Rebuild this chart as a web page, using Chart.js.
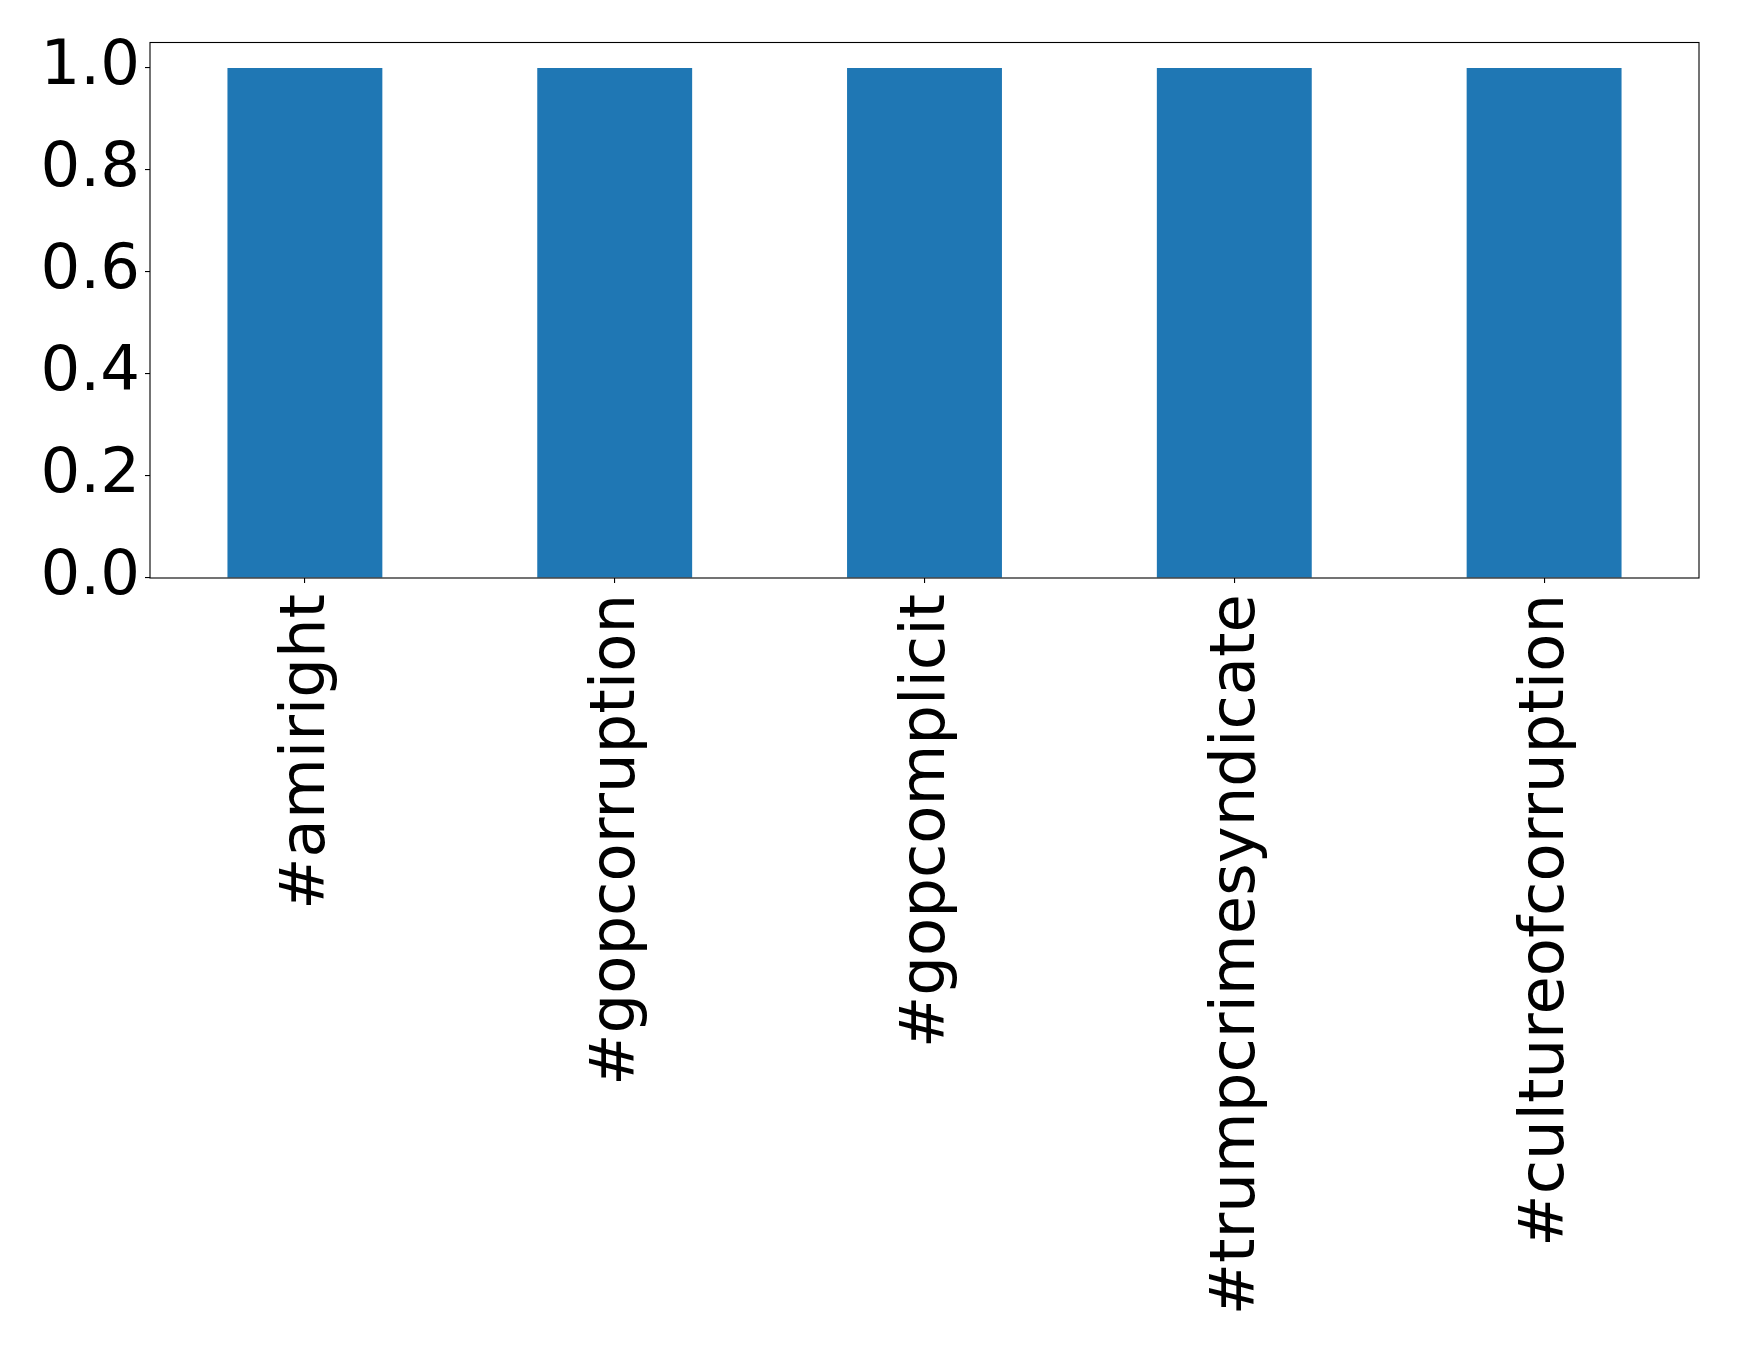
<!DOCTYPE html>
<html>
<head>
<meta charset="utf-8">
<script src="https://cdn.jsdelivr.net/npm/chart.js@4/dist/chart.umd.min.js"></script>
<style>
  html, body { margin: 0; padding: 0; background: #fff; }
  canvas { display: block; }
</style>
</head>
<body>
<canvas id="chart" width="1739" height="1349"></canvas>
<script>
var hashtags = ['#amiright', '#gopcorruption', '#gopcomplicit', '#trumpcrimesyndicate', '#cultureofcorruption'];
var counts = [1, 1, 1, 1, 1];
var yTicks = [0, 0.2, 0.4, 0.6, 0.8, 1.0];

// black box around the plot area, like the matplotlib frame
var frame = {
    id: 'frame',
    afterDatasetsDraw: function (chart) {
        var a = chart.chartArea;
        var c = chart.ctx;
        c.save();
        c.strokeStyle = '#000';
        c.lineWidth = 1.1;
        c.strokeRect(a.left, a.top, a.right - a.left, a.bottom - a.top);
        c.restore();
    }
};

var ctx = document.getElementById('chart').getContext('2d');
new Chart(ctx, {
    type: 'bar',
    data: {
        labels: hashtags,
        datasets: [{
            data: counts,
            backgroundColor: '#1f77b4',
            barPercentage: 0.5,
            categoryPercentage: 1.0
        }]
    },
    options: {
        responsive: false,
        animation: false,
        layout: { padding: { top: 39, right: 40, left: 0, bottom: 0 } },
        plugins: { legend: { display: false }, tooltip: { enabled: false } },
        scales: {
            x: {
                grid: { display: true, drawOnChartArea: false, offset: false, tickLength: 5, color: '#000', lineWidth: 1.1 },
                border: { display: false },
                ticks: {
                    color: '#000',
                    font: { family: 'DejaVu Sans', size: 62.5 },
                    maxRotation: 90,
                    minRotation: 90,
                    autoSkip: false,
                    padding: 11,
                    labelOffset: 3
                },
                afterFit: function (scale) { scale.height = 1349 - 578; }
            },
            y: {
                min: 0,
                max: 1.05,
                grid: { display: true, drawOnChartArea: false, tickLength: 5, color: '#000', lineWidth: 1.1 },
                border: { display: false },
                afterBuildTicks: function (scale) {
                    scale.ticks = yTicks.map(function (v) { return { value: v }; });
                },
                ticks: {
                    color: '#000',
                    font: { family: 'DejaVu Sans', size: 62.5 },
                    padding: 5,
                    callback: function (v) { return Number(v).toFixed(1); }
                },
                afterFit: function (scale) { scale.width = 150; }
            }
        }
    },
    plugins: [frame]
});
</script>
</body>
</html>
